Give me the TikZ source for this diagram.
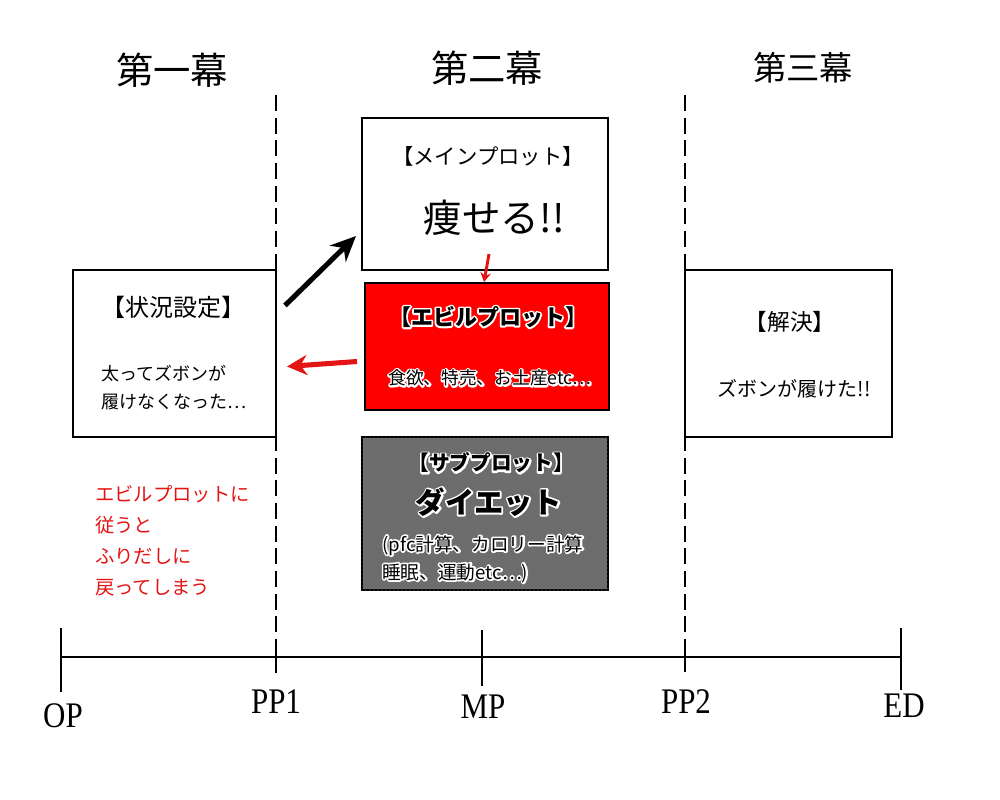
\documentclass[tikz,border=0pt]{standalone}
\usepackage{fontspec}
\setmainfont{Liberation Serif}
\newfontfamily\jp{Noto Sans CJK JP}
\usetikzlibrary{arrows.meta,patterns}

\definecolor{evilred}{RGB}{255,0,0}
\definecolor{notered}{RGB}{228,20,20}
\definecolor{subgray}{RGB}{108,108,108}

\tikzset{
  plotbox/.style={draw,line width=1.6pt,fill=white,inner sep=0pt,outer sep=0pt},
  actline/.style={line width=2pt,dash pattern=on 12pt off 5pt},
  tickline/.style={line width=1.9pt},
  actlabel/.style={font=\jp\fontsize{#1}{#1}\selectfont},
  boxtext/.style={font=\jp\fontsize{#1}{#1}\selectfont,inner sep=0pt},
  tlabel/.style={font=\fontsize{27}{27}\selectfont,transform shape,xscale=0.86,inner sep=0pt},
}

% black text with a white rim
\newcommand{\rim}[1]{\rlap{\color{white}\special{pdf:code 1 Tr 2.6 w 1 j}#1\special{pdf:code 0 Tr}}#1}

\begin{document}
\begin{tikzpicture}[x=0.75pt,y=-0.75pt]
\useasboundingbox (0,0) rectangle (1000,800);

% acts
\node[actlabel=28] (act1) at (172,70) {第一幕};
\node[actlabel=28] (act2) at (487,68) {第二幕};
\node[actlabel=25] (act3) at (803,68) {第三幕};

% time line
\coordinate (OP) at (61,657);
\coordinate (PP1) at (276,657);
\coordinate (MP) at (482,657);
\coordinate (PP2) at (685,657);
\coordinate (ED) at (901,657);
\coordinate (pp1top) at (276,95);
\coordinate (pp2top) at (685,95);

\draw[actline] (pp1top) -- ([shift={(0,-17)}]PP1);
\draw[actline] (pp2top) -- ([shift={(0,-17)}]PP2);

\draw[tickline] (OP) -- (ED);
\draw[tickline] ([shift={(0,-29)}]OP) -- ([shift={(0,35)}]OP);
\draw[tickline] ([shift={(0,-17)}]PP1) -- ([shift={(0,16)}]PP1);
\draw[tickline] ([shift={(0,-27)}]MP) -- ([shift={(0,29)}]MP);
\draw[tickline] ([shift={(0,-17)}]PP2) -- ([shift={(0,15)}]PP2);
\draw[tickline] ([shift={(0,-29)}]ED) -- ([shift={(0,33)}]ED);

\node[tlabel] (lblOP) at (63,716) {OP};
\node[tlabel] (lblPP1) at (276,702) {PP1};
\node[tlabel] (lblMP) at (483,707) {MP};
\node[tlabel] (lblPP2) at (686,702) {PP2};
\node[tlabel] (lblED) at (904,706) {ED};

% boxes
\node[plotbox,minimum width=152.25pt,minimum height=125.25pt] (setup) at (174.5,353.5) {};
\node[plotbox,minimum width=184.5pt,minimum height=114pt] (mainplot) at (485,194) {};
\node[plotbox,fill=evilred,minimum width=183pt,minimum height=95.25pt] (evilplot) at (487,346.5) {};
\node[plotbox,fill=subgray,postaction={pattern=crosshatch dots,pattern color=black!55},
      minimum width=184.5pt,minimum height=114.75pt] (subplot) at (485,513.5) {};
\node[plotbox,minimum width=155.25pt,minimum height=125.25pt] (resolve) at (788.5,353.5) {};

% setup
\node[boxtext=18] (setuptitle) at (173,307) {【状況設定】};
\node[anchor=west,align=left,inner sep=0pt,font=\jp\fontsize{13.5}{21}\selectfont] (setupbody) at (101,388)
  {太ってズボンが\\履けなくなった…};

% main plot
\node[boxtext=16] (maintitle) at (488,156) {【メインプロット】};
\node[boxtext=29] (maingoal) at (494,218) {痩せる!!};

% evil plot
\node[boxtext=16.5,font=\jp\bfseries\fontsize{16.5}{16.5}\selectfont] (eviltitle) at (488,317) {\rim{【エビルプロット】}};
\node[boxtext=13.3] (evilbody) at (490,378) {\rim{食欲、特売、お土産etc…}};

% sub plot
\node[boxtext=15.5,font=\jp\bfseries\fontsize{15.5}{15.5}\selectfont] (subtitle) at (491,463) {\rim{【サブプロット】}};
\node[boxtext=22,font=\jp\bfseries\fontsize{22}{22}\selectfont] (subgoal) at (489,502) {\rim{ダイエット}};
\node[anchor=west,align=left,inner sep=0pt,font=\jp\fontsize{14}{21}\selectfont] (subbody) at (382,559)
  {\rim{(pfc計算、カロリー計算}\\\rim{睡眠、運動etc…)}};

% resolution
\node[boxtext=17] (resolvetitle) at (790,322) {【解決】};
\node[boxtext=15] (resolvebody) at (794,389) {ズボンが履けた!!};

% note
\node[anchor=west,align=left,text=notered,inner sep=0pt,font=\jp\fontsize{14.5}{23.3}\selectfont] (note) at (95,541)
  {エビルプロットに\\従うと\\ふりだしに\\戻ってしまう};

% arrows
\draw[line width=3.8pt,-{Stealth[length=19pt,width=17pt]}] ([shift={(9,-48)}]setup.east) -- ([shift={(-6,42)}]mainplot.west);
\draw[line width=3.8pt,notered,-{Stealth[length=15pt,width=15pt]}] ([shift={(-8,15)}]evilplot.west) -- ([shift={(11,13)}]setup.east);
\draw[line width=2.2pt,notered,-{Stealth[length=7pt,width=8pt]}] ([shift={(4,-16)}]mainplot.south) -- ([shift={(-3,-1)}]evilplot.north);

\end{tikzpicture}
\end{document}
